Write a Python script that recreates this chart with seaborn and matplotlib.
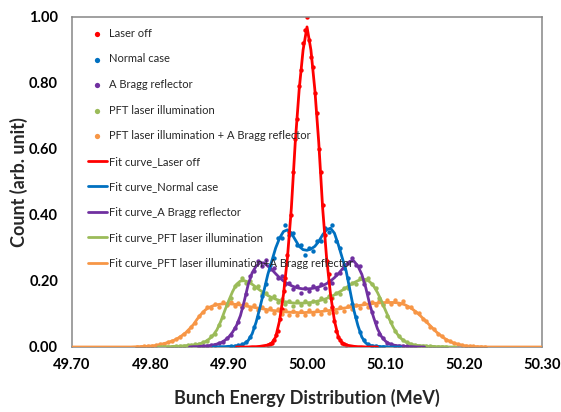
import numpy as np
import pandas as pd
import matplotlib
matplotlib.use("Agg")
import matplotlib.pyplot as plt
import seaborn as sns

# ---------------- data ----------------
STEP = 0.005
labels_meas = ["Laser off", "Normal case", "A Bragg reflector",
               "PFT laser illumination", "PFT laser illumination + A Bragg reflector"]
labels_fit = ["Fit curve_Laser off", "Fit curve_Normal case", "Fit curve_A Bragg reflector",
              "Fit curve_PFT laser illumination", "Fit curve_PFT laser illumination+A Bragg reflector"]
colors = ["#FF0000", "#0070C0", "#7030A0", "#9BBB59", "#F79646"]

# fit curves (start x, values every 0.005 MeV)
fit_red_x0 = 49.91
fit_red = [0, 0, 0, 0, 0.001, 0.001, 0.002, 0.004, 0.006, 0.012, 0.03, 0.08, 0.16, 0.27,
           0.42, 0.62, 0.78, 0.90, 0.97, 0.90, 0.78, 0.62, 0.42, 0.27, 0.16, 0.08, 0.03,
           0.012, 0.006, 0.004, 0.002, 0.001, 0.001, 0, 0, 0, 0]

fit_blue_x0 = 49.88
fit_blue = [0, 0, 0.001, 0.001, 0.002, 0.002, 0.003, 0.005, 0.01, 0.02, 0.04, 0.075, 0.12,
            0.17, 0.22, 0.26, 0.30, 0.33, 0.35, 0.355, 0.345, 0.325, 0.305, 0.295,
            0.293, 0.297, 0.305, 0.32, 0.34, 0.355, 0.36, 0.345, 0.31, 0.27, 0.23, 0.17,
            0.11, 0.065, 0.03, 0.012, 0.005, 0.003, 0.002, 0.001, 0.001, 0, 0, 0, 0]

fit_purple_x0 = 49.85
fit_purple = [0, 0.001, 0.001, 0.002, 0.003, 0.004, 0.006, 0.009, 0.013, 0.02, 0.03, 0.045,
              0.065, 0.095, 0.14, 0.19, 0.225, 0.245, 0.255, 0.255, 0.245, 0.235, 0.222,
              0.21, 0.20, 0.192, 0.186, 0.181, 0.178, 0.176,
              0.176, 0.177, 0.179, 0.182, 0.186, 0.192, 0.20, 0.21, 0.222, 0.236, 0.25,
              0.26, 0.26, 0.245, 0.22, 0.18, 0.13, 0.09, 0.055, 0.032, 0.018, 0.01, 0.006,
              0.004, 0.003, 0.002, 0.001, 0.001, 0, 0, 0]

fit_green_x0 = 49.81
fit_green = [0, 0.001, 0.001, 0.001, 0.002, 0.002, 0.003, 0.004, 0.005, 0.006, 0.008, 0.011,
             0.016, 0.024, 0.035, 0.052, 0.078, 0.11, 0.14, 0.168, 0.19, 0.20, 0.201, 0.197,
             0.19, 0.181, 0.172, 0.164, 0.156, 0.15, 0.145, 0.141, 0.138, 0.136, 0.134,
             0.133, 0.133, 0.133,
             0.134, 0.135, 0.137, 0.14, 0.143, 0.147, 0.152, 0.158, 0.165, 0.172, 0.18,
             0.188, 0.195, 0.201, 0.205, 0.205, 0.198, 0.185, 0.165, 0.14, 0.112, 0.085,
             0.06, 0.04, 0.026, 0.017, 0.011, 0.007, 0.005, 0.004, 0.003, 0.002, 0.002,
             0.001, 0.001, 0.001, 0, 0, 0]

fit_orange_x0 = 49.70
fit_orange = [0.0] * 16 + [
    0.0005, 0.001, 0.0015, 0.002, 0.003, 0.004, 0.006, 0.009, 0.012, 0.016, 0.02, 0.026,
    0.034, 0.043, 0.055, 0.068, 0.085, 0.10, 0.112, 0.12, 0.125, 0.128, 0.13, 0.131,
    0.131, 0.13, 0.129, 0.127, 0.125, 0.123, 0.121, 0.119, 0.117, 0.115, 0.113, 0.111,
    0.11, 0.108, 0.107, 0.106, 0.105, 0.105, 0.104, 0.104,
    0.105, 0.105, 0.106, 0.107, 0.108, 0.11, 0.111, 0.113, 0.115, 0.117, 0.119, 0.121,
    0.123, 0.125, 0.127, 0.129, 0.13, 0.132, 0.133, 0.134, 0.135, 0.135, 0.135, 0.134,
    0.132, 0.128, 0.122, 0.114, 0.105, 0.094, 0.082, 0.07, 0.058, 0.046, 0.036, 0.027,
    0.02, 0.014, 0.01, 0.007, 0.004, 0.003, 0.002, 0.001, 0.001, 0.0005] + [0.0] * 15

# measured points
meas_red_x0, meas_red_step = 49.95, 0.0025
meas_red = [0.006, 0.008, 0.013, 0.02, 0.035, 0.05, 0.085, 0.115, 0.17, 0.21, 0.28, 0.35,
            0.40, 0.53, 0.63, 0.69, 0.79, 0.84, 0.92, 0.96, 1.00, 0.93, 0.88, 0.85, 0.77,
            0.71, 0.60, 0.53, 0.43, 0.34, 0.26, 0.22, 0.15, 0.12, 0.08, 0.05, 0.03, 0.02,
            0.012, 0.008, 0.006]

meas_blue_x0 = 49.9025
meas_blue = [0.003, 0.002, 0.005, 0.008, 0.016, 0.03, 0.062, 0.09, 0.155, 0.19, 0.25, 0.27,
             0.33, 0.33, 0.37, 0.34, 0.345, 0.31, 0.31, 0.28, 0.30, 0.29, 0.32, 0.32, 0.36,
             0.35, 0.37, 0.32, 0.30, 0.24, 0.21, 0.13, 0.09, 0.045, 0.022, 0.008, 0.004,
             0.003, 0.001, 0.001]

meas_purple_x0 = 49.8625
meas_purple = [0.001, 0.003, 0.003, 0.006, 0.007, 0.012, 0.015, 0.026, 0.036, 0.058, 0.075,
               0.12, 0.16, 0.215, 0.23, 0.26, 0.245, 0.265, 0.235, 0.24, 0.21, 0.215, 0.19,
               0.195, 0.175, 0.185, 0.165, 0.18,
               0.17, 0.185, 0.175, 0.19, 0.18, 0.20, 0.195, 0.22, 0.225, 0.25, 0.255, 0.27,
               0.25, 0.245, 0.19, 0.165, 0.105, 0.075, 0.04, 0.026, 0.013, 0.009, 0.004,
               0.004, 0.002, 0.002, 0.001, 0.001]

meas_green_x0 = 49.8225
meas_green = [0.001, 0.001, 0.002, 0.003, 0.003, 0.005, 0.005, 0.008, 0.009, 0.014, 0.018,
              0.032, 0.04, 0.068, 0.09, 0.13, 0.15, 0.185, 0.19, 0.21, 0.195, 0.20, 0.18,
              0.185, 0.16, 0.165, 0.145, 0.155, 0.135, 0.145, 0.13, 0.14, 0.125, 0.14,
              0.128, 0.138,
              0.13, 0.14, 0.132, 0.148, 0.14, 0.155, 0.148, 0.165, 0.16, 0.18, 0.178, 0.195,
              0.19, 0.21, 0.20, 0.21, 0.19, 0.18, 0.15, 0.13, 0.095, 0.075, 0.048, 0.034,
              0.02, 0.015, 0.008, 0.006, 0.004, 0.004, 0.002, 0.002, 0.001, 0.001, 0.001, 0.0]

meas_orange_x0 = 49.7825
meas_orange = [0.001, 0.001, 0.002, 0.003, 0.004, 0.005, 0.008, 0.01, 0.015, 0.018, 0.024,
               0.03, 0.04, 0.047, 0.062, 0.074, 0.095, 0.105, 0.12, 0.117, 0.13, 0.122,
               0.137, 0.126, 0.136, 0.124, 0.134, 0.12, 0.13, 0.116, 0.127, 0.113, 0.122,
               0.108, 0.118, 0.104, 0.115, 0.1, 0.112, 0.098, 0.11, 0.097, 0.11, 0.098,
               0.112, 0.099, 0.113, 0.1, 0.115, 0.104, 0.118, 0.106, 0.121, 0.11, 0.124,
               0.114, 0.128, 0.118, 0.132, 0.122, 0.137, 0.126, 0.14, 0.128, 0.141, 0.13,
               0.142, 0.13, 0.138, 0.122, 0.12, 0.105, 0.102, 0.085, 0.078, 0.06, 0.054,
               0.04, 0.033, 0.022, 0.018, 0.011, 0.009, 0.005, 0.004, 0.002, 0.002, 0.001,
               0.001, 0.0]

x_ticks = [49.70, 49.80, 49.90, 50.00, 50.10, 50.20, 50.30]
y_ticks = [0.00, 0.20, 0.40, 0.60, 0.80, 1.00]


def grid(x0, n, step=STEP):
    return np.round(x0 + step * np.arange(n), 5)


fits = [(fit_red_x0, fit_red), (fit_blue_x0, fit_blue), (fit_purple_x0, fit_purple),
        (fit_green_x0, fit_green), (fit_orange_x0, fit_orange)]
meas = [(meas_red_x0, meas_red, meas_red_step), (meas_blue_x0, meas_blue, STEP),
        (meas_purple_x0, meas_purple, STEP), (meas_green_x0, meas_green, STEP),
        (meas_orange_x0, meas_orange, STEP)]

# ---------------- style ----------------
sns.set_style("white")
plt.rcParams['font.family'] = ['Lato', 'DejaVu Sans']

fig = plt.figure(figsize=(5.61, 4.12), dpi=100)
ax = fig.add_axes([72 / 561, 65 / 412, 470 / 561, 330 / 412])

for i, ((x0, vals, st), col, lab) in enumerate(zip(meas, colors, labels_meas)):
    df = pd.DataFrame({"x": grid(x0, len(vals), st), "y": vals})
    sns.scatterplot(data=df, x="x", y="y", color=col, s=10, linewidth=0,
                    ax=ax, label=lab, zorder=2 + 0.1 * (5 - i))

for i, ((x0, vals), col, lab) in enumerate(zip(fits, colors, labels_fit)):
    df = pd.DataFrame({"x": grid(x0, len(vals)), "y": vals})
    sns.lineplot(data=df, x="x", y="y", color=col, linewidth=2.0, ax=ax,
                 label=lab, zorder=3 + 0.1 * (5 - i), sort=False)

ax.set_xlim(49.70, 50.30)
ax.set_ylim(0, 1.0)
ax.set_xticks(x_ticks)
ax.set_yticks(y_ticks)
ax.set_xticklabels([f"{v:.2f}" for v in x_ticks])
ax.set_yticklabels([f"{v:.2f}" for v in y_ticks])
ax.tick_params(axis="both", which="major", direction="out", length=4, width=1,
               color="#868686", labelsize=10.5, labelcolor="black")
ax.tick_params(axis="x", pad=4)
ax.tick_params(axis="y", pad=6)
for lab in ax.get_xticklabels() + ax.get_yticklabels():
    lab.set_fontweight("bold")
for sp in ax.spines.values():
    sp.set_visible(True)
    sp.set_color("#868686")
    sp.set_linewidth(1.1)

ax.set_xlabel("Bunch Energy Distribution (MeV)", fontsize=13, fontweight="bold", labelpad=12)
ax.set_ylabel("Count (arb. unit)", fontsize=13, fontweight="bold", labelpad=1)

handles, labels = ax.get_legend_handles_labels()
ax.legend(handles, labels, loc="upper left", bbox_to_anchor=(0.034, 0.967),
          frameon=False, fontsize=8.0, borderpad=0, borderaxespad=0,
          handlelength=1.7, handletextpad=0.15, labelspacing=1.31, markerscale=1.2)

fig.savefig("out.png", dpi=100)
